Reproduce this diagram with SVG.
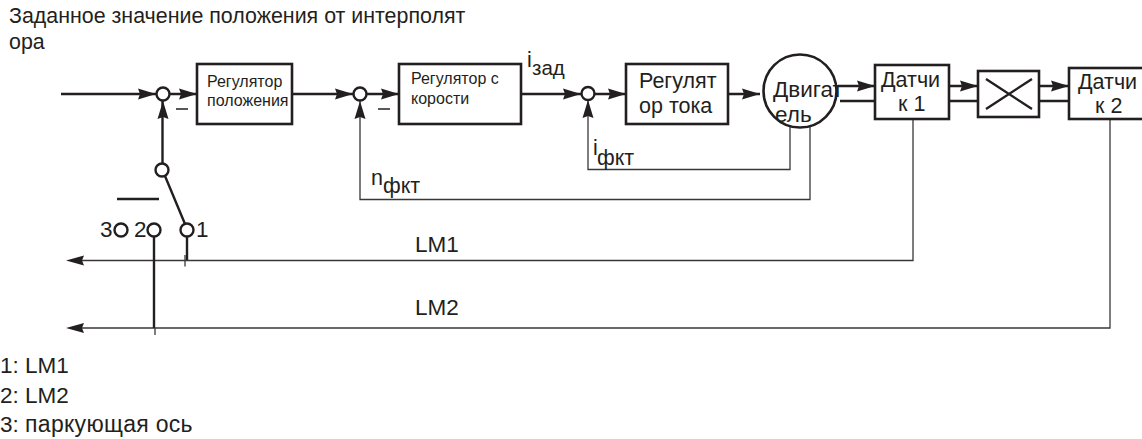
<svg xmlns="http://www.w3.org/2000/svg" width="1142" height="439" viewBox="0 0 1142 439">
<style>
text{font-family:"Liberation Sans",Arial,sans-serif;fill:#231f20}
.t{font-size:21.400px}.s{font-size:16px}.b{font-size:21.500px}.l{font-size:22.500px}
.box{fill:#fff;stroke:#231f20;stroke-width:2.600}
.mot{fill:none;stroke:#231f20;stroke-width:2.600}
.th{fill:none;stroke:#231f20;stroke-width:2.400}
.mn{fill:none;stroke:#231f20;stroke-width:1.400}
.tn{fill:none;stroke:#3a3738;stroke-width:1.300}
.c{fill:#fff;stroke:#231f20;stroke-width:2.400}
.a{fill:#231f20;stroke:none}
</style>
<defs>
<path id="ar" class="a" d="M0 0L-18 -5.500L-16 0L-18 5.500Z"/>
<path id="ad" class="a" d="M0 0L-5.500 18L0 16L5.500 18Z"/>
</defs>
<g id="connectors">
<path class="th" d="M61 94H156M170 94H197M292 94H353M367 94H399M521 94H581M595 94H626M728 94H760"/>
<path class="th" d="M162.500 101V165M165 176L185 224"/>
<path class="th" d="M117 199H159"/>
<path class="mn" d="M176 109H188M378 109H390"/>
<path class="tn" d="M360 101V199.500H810V127M588 100V169.500H790V127"/>
<path class="tn" d="M913 119V260.500H80M1110 119V328H80"/>
<path class="th" d="M187 236V260M154 236V328"/>
<path class="tn" d="M185 255V266.500M155 328V335"/>
<path class="th" d="M838 86H875M840 101H875M949 86H978M949 101H978M1039 86H1069M1039 101H1069"/>
<use href="#ar" x="156" y="94"/><use href="#ar" x="197" y="94"/>
<use href="#ar" x="353" y="94"/><use href="#ar" x="399" y="94"/>
<use href="#ar" x="581" y="94"/><use href="#ar" x="626" y="94"/>
<use href="#ar" x="760" y="94"/><use href="#ar" x="875" y="86"/>
<use href="#ar" x="978" y="86"/><use href="#ar" x="1069" y="86"/>
<use href="#ad" x="163" y="101"/><use href="#ad" x="360" y="101"/><use href="#ad" x="588" y="100"/>
<path class="a" d="M66 260.500L84 255.500L82 260.500L84 265.500Z"/>
<path class="a" d="M66 328L84 323L82 328L84 333Z"/>
</g>
<g id="sum1"><circle class="c" cx="163" cy="94" r="6.500"/></g>
<g id="sum2"><circle class="c" cx="360" cy="94" r="6.500"/></g>
<g id="sum3"><circle class="c" cx="588" cy="93.500" r="6.500"/></g>
<g id="sw-top"><circle class="c" cx="162" cy="170" r="6.500"/></g>
<g id="sw1"><circle class="c" cx="187" cy="230" r="6.500"/></g>
<g id="sw2"><circle class="c" cx="154" cy="230" r="6.500"/></g>
<g id="sw3"><circle class="c" cx="121" cy="230" r="6.500"/></g>
<g id="reg-pos"><rect class="box" x="197" y="64" width="95" height="60"/>
<text class="s" x="207" y="87">Регулятор</text><text class="s" x="207" y="106">положения</text></g>
<g id="reg-speed"><rect class="box" x="399" y="64" width="122" height="60"/>
<text class="s" x="411" y="84">Регулятор с</text><text class="s" x="411" y="104">корости</text></g>
<g id="reg-cur"><rect class="box" x="626" y="64" width="102" height="60"/>
<text class="b" x="639" y="88">Регулят</text><text class="b" x="639" y="113">ор тока</text></g>
<g id="motor">
<text class="l" x="773" y="97">Двигат</text><text class="l" x="775" y="122">ель</text>
<circle class="mot" cx="800" cy="91" r="36.500"/></g>
<g id="enc1"><rect class="box" x="875" y="65" width="74" height="54"/>
<text class="b" x="881" y="87">Датчи</text><text class="b" x="898" y="111">к 1</text></g>
<g id="gear"><rect class="box" x="978" y="71" width="61" height="46"/>
<path class="th" d="M986 79L1032 109M986 109L1032 79"/></g>
<g id="enc2"><rect class="box" x="1069" y="68" width="80" height="51"/>
<text class="b" x="1078" y="89">Датчи</text><text class="b" x="1095" y="113">к 2</text></g>
<g id="labels">
<text class="t" x="9" y="22.500">Заданное значение положения от интерполят</text>
<text class="t" x="9" y="49">ора</text>
<text class="b" x="527" y="67">i</text><text class="b" x="532" y="75" style="font-size:20.500px">зад</text>
<text class="b" x="593" y="155">i</text><text class="b" x="597" y="165">фкт</text>
<text class="b" x="371" y="185">n</text><text class="b" x="383" y="193">фкт</text>
<text class="l" x="100" y="237">3</text><text class="l" x="134" y="237">2</text><text class="l" x="196" y="237">1</text>
<text class="l" x="415" y="252">LM1</text>
<text class="l" x="415" y="315">LM2</text>
<text class="l" x="0" y="373">1: LM1</text>
<text class="l" x="0" y="403">2: LM2</text>
<text class="l" x="0" y="432">3: <tspan style="font-size:23px;letter-spacing:0.3px">паркующая ось</tspan></text>
</g>
</svg>
